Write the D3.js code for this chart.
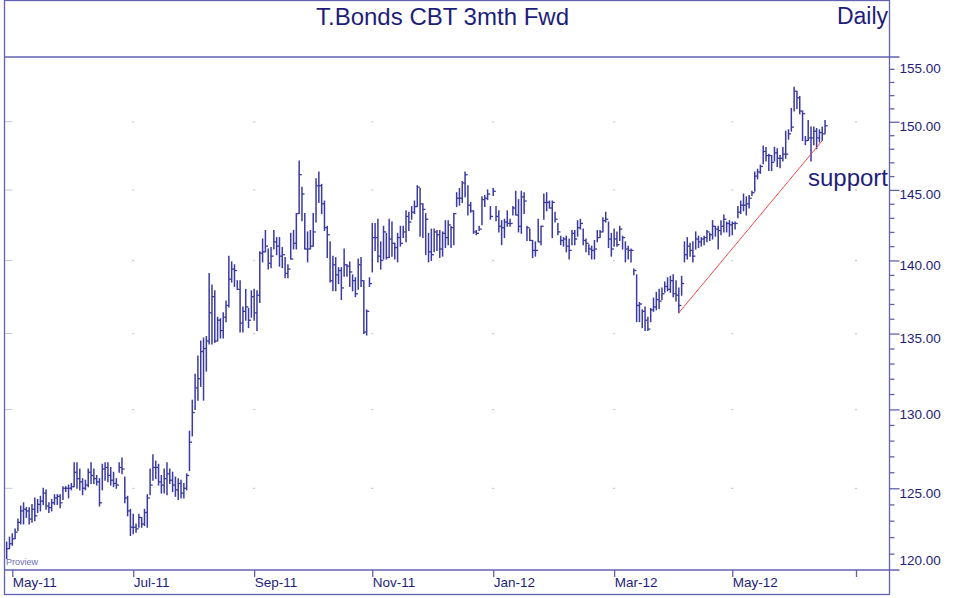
<!DOCTYPE html>
<html>
<head>
<meta charset="utf-8">
<script src="https://cdnjs.cloudflare.com/ajax/libs/d3/7.8.5/d3.min.js"></script>
<style>
  body { margin: 0; background: #fff; }
  text { font-family: "Liberation Sans", Arial, Helvetica, sans-serif; }
</style>
</head>
<body>
<script>
// daily bars, index 0 = first trading day of May-11
const firstIndex = -2;
const high = [
  121.7,122.0,122.2,122.5,123.1,123.9,124.1,123.8,123.8,124.0,124.4,124.3,
  124.5,125.0,124.9,124.1,124.3,124.6,124.6,124.6,125.1,125.1,125.2,125.3,
  126.6,126.6,126.2,125.6,125.5,126.2,126.6,126.2,125.8,125.6,126.5,126.6,
  126.6,126.3,126.0,125.6,126.6,126.9,125.7,124.5,123.7,123.4,122.8,123.4,
  123.2,123.7,124.6,126.2,127.1,126.7,126.5,125.8,126.2,126.6,126.2,126.0,
  125.7,125.6,125.5,125.3,125.9,128.6,130.6,132.3,133.5,134.5,134.7,134.8,
  139.1,138.3,137.9,136.1,136.0,136.4,137.2,140.3,139.9,139.7,138.6,138.6,
  136.8,138.0,136.7,137.9,138.0,137.9,140.6,141.5,142.1,140.8,140.9,142.1,
  141.6,141.6,140.9,140.2,139.7,141.9,142.1,143.3,147.1,145.2,143.3,142.0,
  142.1,143.3,145.8,146.3,145.4,144.2,142.4,141.3,140.3,140.2,139.5,139.5,
  140.8,139.7,139.9,139.0,138.8,140.1,140.2,138.6,136.6,138.8,142.6,142.6,
  142.9,141.3,142.4,141.9,142.9,142.7,141.2,141.9,142.4,142.4,143.5,143.4,
  143.8,144.2,145.3,145.1,144.0,143.3,141.9,142.2,142.2,142.1,142.1,142.0,
  142.8,142.8,142.4,143.3,144.8,145.1,145.6,146.3,145.3,144.1,143.5,142.1,
  142.4,144.5,144.6,145.0,143.8,145.1,143.8,143.5,142.8,142.9,143.5,142.9,
  143.8,144.9,144.3,144.9,144.8,142.4,142.2,141.4,141.3,142.9,142.4,144.7,
  144.8,144.2,144.2,143.4,142.6,141.7,141.6,141.7,141.5,142.1,142.1,142.8,
  142.9,142.2,141.5,141.1,141.0,141.4,142.1,142.1,143.0,143.4,142.7,141.9,
  142.2,142.0,142.4,141.7,141.3,141.0,140.8,139.4,139.0,137.1,136.6,136.8,
  136.1,136.7,137.4,137.8,138.0,138.1,138.5,138.8,138.9,139.0,138.6,138.1,
  138.9,141.3,141.6,141.2,141.3,142.0,141.7,141.6,141.7,142.1,141.9,142.8,
  142.4,142.4,142.8,143.2,142.7,142.8,142.7,142.7,143.8,144.2,144.7,144.5,
  144.6,144.9,146.3,146.5,146.8,148.2,148.1,147.6,147.5,148.1,148.0,147.5,
  148.1,149.3,149.4,151.0,152.6,152.3,151.9,150.8,148.9,150.1,149.6,149.6,
  149.5,149.4,149.6,150.1
];
const low = [
  120.7,121.3,121.5,121.9,122.4,122.8,122.8,123.2,122.8,122.9,123.0,123.5,
  123.6,124.0,123.7,123.5,123.6,124.0,124.0,123.8,124.3,124.8,124.4,124.9,
  125.1,125.0,124.9,124.6,124.9,125.1,125.3,125.3,125.2,123.9,124.9,125.5,
  125.4,125.2,125.1,125.0,126.0,125.9,124.1,123.3,122.1,122.2,122.3,122.6,
  122.6,122.7,122.6,124.6,125.5,125.6,125.2,124.7,124.7,124.6,125.3,124.8,
  124.5,124.3,124.4,124.4,124.9,126.1,128.3,130.0,130.6,131.5,130.6,132.5,
  134.3,134.3,134.4,134.5,134.7,134.7,135.8,136.8,138.5,138.2,138.0,135.1,
  135.1,135.9,135.4,136.1,135.9,135.2,137.1,139.9,140.6,139.4,139.5,140.8,
  140.4,139.6,139.5,138.8,138.8,140.1,140.8,140.8,143.3,142.8,140.8,139.9,
  140.8,141.0,142.7,144.1,143.3,142.1,140.2,138.5,137.9,137.9,138.4,137.3,
  138.9,138.9,138.2,137.9,137.5,138.0,138.2,135.0,134.9,138.2,139.2,140.7,
  139.9,139.4,140.1,140.1,140.2,140.3,140.1,139.9,141.0,141.6,141.3,142.1,
  142.9,143.3,143.8,141.7,141.6,140.4,139.9,140.0,140.6,140.7,140.2,140.3,
  140.9,141.1,140.9,141.1,143.8,143.9,144.1,144.5,143.2,143.4,141.9,141.8,
  142.1,142.5,143.8,144.3,142.9,144.6,142.8,142.0,141.1,141.6,142.4,142.4,
  143.2,143.2,142.0,141.9,143.3,141.4,141.4,140.2,140.3,141.3,141.1,142.9,
  143.5,143.7,141.6,142.7,141.8,141.1,141.0,140.6,140.1,141.1,141.1,141.7,
  142.2,141.1,140.6,140.4,140.1,140.1,141.3,141.6,142.0,142.7,140.9,140.3,
  141.0,141.0,141.4,140.8,139.9,140.1,139.9,139.0,135.8,135.8,135.4,135.2,
  135.2,135.8,136.5,136.6,136.7,137.3,137.8,137.9,137.8,137.5,137.2,136.4,
  137.6,139.9,140.1,140.3,139.9,140.8,140.9,141.0,141.1,141.3,141.4,141.5,
  141.7,140.8,141.8,142.0,142.0,141.7,141.8,142.2,143.0,143.3,143.5,143.2,
  143.7,144.6,144.9,145.8,146.2,146.9,147.1,146.4,146.4,147.1,146.7,146.6,
  147.1,147.3,148.7,149.3,150.8,151.0,150.6,148.6,148.3,148.6,147.1,148.3,
  148.0,148.5,148.6,149.1
];
const close = [
  121.3,121.6,121.9,122.3,122.9,123.6,123.7,123.6,123.1,123.7,123.3,124.0,
  124.2,124.7,123.9,123.8,124.1,124.4,124.5,124.1,125.0,125.0,125.0,125.1,
  126.0,125.6,125.4,125.0,125.2,126.0,125.8,125.6,125.4,124.1,126.2,126.3,
  125.8,125.5,125.3,125.2,126.3,126.2,124.4,123.6,122.6,122.6,122.5,123.2,
  122.8,123.5,124.4,125.2,126.3,126.3,125.4,125.2,125.6,125.9,125.5,125.2,
  124.9,125.3,124.7,125.0,125.8,127.9,129.8,131.4,132.0,133.8,134.0,134.5,
  136.4,137.5,134.5,135.9,135.2,136.1,136.9,138.7,139.4,139.3,138.0,135.7,
  136.5,136.8,135.9,137.5,136.4,137.6,140.5,140.6,141.0,139.8,140.3,141.3,
  141.0,140.3,140.4,139.1,139.4,140.1,141.2,143.3,146.1,144.7,140.8,140.8,
  141.0,142.0,145.3,145.3,144.0,142.3,141.8,138.6,139.7,139.0,139.3,138.1,
  139.7,139.6,139.2,138.6,137.7,139.7,138.6,135.1,136.5,138.4,141.6,141.6,
  140.3,140.0,142.0,140.2,141.5,141.2,140.9,141.6,141.2,142.0,143.1,142.7,
  143.4,143.8,145.2,144.0,143.6,142.9,140.6,140.4,142.0,141.8,140.8,141.9,
  141.6,142.5,142.3,143.3,144.4,144.4,145.5,146.1,143.9,143.5,142.0,141.9,
  142.2,144.3,144.4,144.7,143.1,144.9,143.1,142.4,142.3,142.7,142.6,142.6,
  143.7,143.2,142.4,144.5,144.2,142.3,141.4,140.7,140.7,141.3,142.4,144.1,
  144.1,143.7,144.1,142.9,142.0,141.4,141.5,141.0,140.7,141.9,141.5,142.3,
  142.6,141.4,141.2,140.8,140.7,140.8,141.6,142.0,142.8,142.9,141.5,140.8,
  141.5,141.1,142.2,141.6,140.8,140.7,140.7,139.3,136.9,137.0,136.5,135.9,
  135.3,136.6,136.8,137.3,137.2,137.7,138.2,138.0,138.6,137.7,137.6,136.9,
  138.4,140.4,141.0,140.7,140.3,141.5,141.3,141.5,141.6,142.0,141.8,142.4,
  142.2,142.1,142.4,142.9,142.6,142.5,142.6,142.6,143.4,143.9,143.9,144.0,
  144.4,144.8,146.0,146.3,146.7,147.8,147.5,147.5,147.0,147.7,147.3,147.3,
  147.6,147.6,149.1,149.6,152.3,151.8,150.8,150.6,148.6,148.8,148.8,149.3,
  148.8,149.2,149.1,149.7
];

const monthIndex = [0, 43, 86, 128, 171, 214, 256, 300];
const monthLabels = ["May-11", "Jul-11", "Sep-11", "Nov-11", "Jan-12", "Mar-12", "May-12", ""];
const priceTicks = [120, 125, 130, 135, 140, 145, 150, 155];
const supportIndex = [237, 288];
const supportPrice = [136.4, 148.6];

const width = 956;
const height = 598;
const frameLeft = 4.5, frameRight = 889.5, frameTop = 0.5, frameBottom = 594.5;
const titleLine = 57, plotBottom = 570;

const ink = "#1e1e7a";
const lineColor = "#6262b2";
const barColor = "#3a3aa2";

const x = d3.scaleLinear().domain([0, 300]).range([12.3, 856]);
const y = d3.scaleLog().domain([120.02, 154.91]).range([plotBottom, titleLine]);

const bars = high.map(function(h, k) {
  return { i: k + firstIndex, h: h, l: low[k], c: close[k] };
});

const svg = d3.select("body")
  .append("svg")
    .attr("width", width)
    .attr("height", height);

// faint grid: dots at month / major price crossings, dashes on left edge
const gridPrices = priceTicks.filter(function(p) { return y(p) > titleLine + 5 && y(p) < plotBottom - 5; });
gridPrices.forEach(function(p) {
  svg.append("line")
    .attr("x1", frameLeft).attr("x2", frameLeft + 8)
    .attr("y1", y(p)).attr("y2", y(p))
    .attr("stroke", "#c6c6e0").attr("stroke-width", 1);
  monthIndex.slice(1).forEach(function(m) {
    svg.append("rect")
      .attr("x", x(m) - 1).attr("y", y(p) - 0.5)
      .attr("width", 2).attr("height", 1.2)
      .attr("fill", "#c6c6e0");
  });
});

// price bars (high-low with close tick)
const g = svg.append("g");
g.selectAll("line.hl")
  .data(bars)
  .enter()
  .append("line")
    .attr("class", "hl")
    .attr("x1", function(d) { return x(d.i); })
    .attr("x2", function(d) { return x(d.i); })
    .attr("y1", function(d) { return y(d.h) - 0.5; })
    .attr("y2", function(d) { return y(d.l) + 0.5; })
    .attr("stroke", barColor)
    .attr("stroke-width", 1.5);
g.selectAll("line.cl")
  .data(bars)
  .enter()
  .append("line")
    .attr("class", "cl")
    .attr("x1", function(d) { return x(d.i); })
    .attr("x2", function(d) { return x(d.i) + 2.6; })
    .attr("y1", function(d) { return y(d.c); })
    .attr("y2", function(d) { return y(d.c); })
    .attr("stroke", barColor)
    .attr("stroke-width", 1.3);

// support line
svg.append("line")
  .attr("x1", x(supportIndex[0])).attr("y1", y(supportPrice[0]))
  .attr("x2", x(supportIndex[1])).attr("y2", y(supportPrice[1]))
  .attr("stroke", "#f04848")
  .attr("stroke-width", 1);

// frame
const frame = svg.append("g").attr("stroke", lineColor).attr("stroke-width", 1.3).attr("fill", "none");
frame.append("rect")
  .attr("x", frameLeft).attr("y", frameTop)
  .attr("width", frameRight - frameLeft).attr("height", frameBottom - frameTop);
frame.append("line")
  .attr("x1", frameLeft).attr("x2", frameRight + 10)
  .attr("y1", titleLine).attr("y2", titleLine);
frame.append("line")
  .attr("x1", frameLeft).attr("x2", frameRight + 10)
  .attr("y1", plotBottom).attr("y2", plotBottom);

// right price axis: minor and major ticks
const minorTicks = d3.range(121, 155, 1).filter(function(p) { return p % 5 !== 0; });
const yMinor = svg.append("g")
  .attr("transform", "translate(" + frameRight + ",0)")
  .call(d3.axisRight(y).tickValues(minorTicks).tickSize(5).tickFormat(""));
const yMajor = svg.append("g")
  .attr("transform", "translate(" + frameRight + ",0)")
  .call(d3.axisRight(y).tickValues(priceTicks.filter(function(p) { return y(p) > titleLine && y(p) < plotBottom; }))
    .tickSize(10).tickFormat(""));
[yMinor, yMajor].forEach(function(a) {
  a.select(".domain").remove();
  a.selectAll(".tick line").attr("stroke", lineColor).attr("stroke-width", 1.3);
});

svg.append("g")
  .selectAll("text")
  .data(priceTicks)
  .enter()
  .append("text")
    .attr("x", frameRight + 10)
    .attr("y", function(d) { return Math.max(63, Math.min(555, y(d))) + 9.5; })
    .attr("fill", ink)
    .attr("font-size", 13.5)
    .text(function(d) { return d.toFixed(2); });

// month axis
const xAxis = svg.append("g")
  .attr("transform", "translate(0," + plotBottom + ")")
  .call(d3.axisBottom(x).tickValues(monthIndex).tickSize(7)
    .tickFormat(function(d, k) { return monthLabels[k]; }));
xAxis.select(".domain").remove();
xAxis.selectAll(".tick line").attr("stroke", lineColor).attr("stroke-width", 1.3);
xAxis.selectAll(".tick text")
  .attr("text-anchor", "start")
  .attr("x", 0)
  .attr("y", 7)
  .attr("dy", "0.71em")
  .attr("fill", ink)
  .attr("font-size", 13.5)
  .attr("font-family", "Liberation Sans, Arial, sans-serif");

// titles
svg.append("text")
  .attr("x", 442.5).attr("y", 25)
  .attr("text-anchor", "middle")
  .attr("fill", ink)
  .attr("font-size", 24)
  .text("T.Bonds CBT 3mth Fwd");
svg.append("text")
  .attr("x", 888).attr("y", 24)
  .attr("text-anchor", "end")
  .attr("fill", ink)
  .attr("font-size", 23)
  .text("Daily");
svg.append("text")
  .attr("x", 888).attr("y", 186)
  .attr("text-anchor", "end")
  .attr("fill", ink)
  .attr("font-size", 24)
  .text("support");
svg.append("text")
  .attr("x", 6).attr("y", 565)
  .attr("fill", "#6c6cb6")
  .attr("font-size", 9)
  .text("Proview");
</script>
</body>
</html>
